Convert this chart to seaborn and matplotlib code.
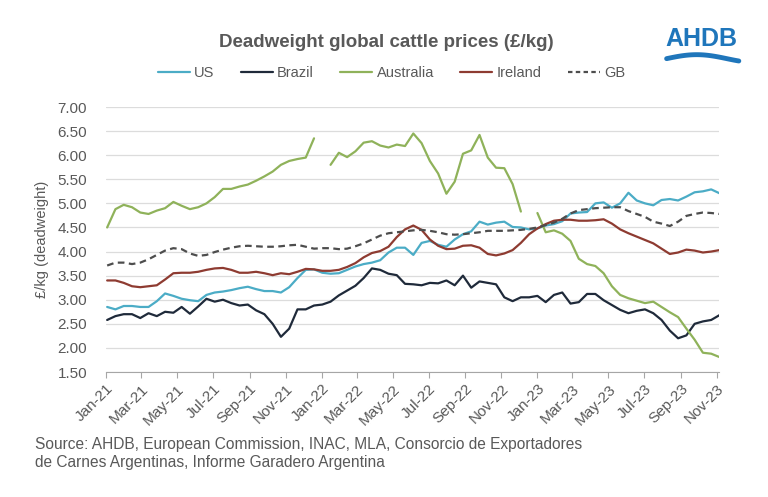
import matplotlib

matplotlib.use("Agg")
import matplotlib.dates as mdates
import matplotlib.pyplot as plt
import numpy as np
import pandas as pd
import seaborn as sns
from matplotlib.lines import Line2D

# fortnightly readings, Jan-21 to Nov-23 (GBP/kg deadweight)
dates = pd.date_range("2021-01-03", periods=75, freq="14D")

us = [
    2.85, 2.80, 2.87, 2.87, 2.85, 2.85, 2.97, 3.13, 3.08, 3.02, 2.99, 2.97, 3.10,
    3.15, 3.17, 3.20, 3.24, 3.27, 3.22, 3.18, 3.18, 3.15, 3.26, 3.45, 3.62, 3.63,
    3.56, 3.54, 3.55, 3.62, 3.69, 3.74, 3.77, 3.82, 3.98, 4.08, 4.08, 3.93, 4.18,
    4.22, 4.14, 4.10, 4.25, 4.36, 4.42, 4.62, 4.56, 4.60, 4.62, 4.51, 4.50, 4.46,
    4.48, 4.54, 4.57, 4.63, 4.79, 4.81, 4.82, 5.00, 5.02, 4.91, 5.00, 5.22, 5.06,
    5.00, 4.96, 5.07, 5.09, 5.06, 5.14, 5.23, 5.25, 5.29, 5.21,
]
brazil = [
    2.58, 2.66, 2.70, 2.70, 2.62, 2.72, 2.66, 2.75, 2.73, 2.85, 2.71, 2.86, 3.02,
    2.96, 3.00, 2.93, 2.88, 2.90, 2.78, 2.70, 2.50, 2.23, 2.40, 2.80, 2.80, 2.88,
    2.90, 2.96, 3.09, 3.19, 3.29, 3.45, 3.65, 3.62, 3.54, 3.51, 3.33, 3.32, 3.30,
    3.35, 3.34, 3.40, 3.30, 3.50, 3.25, 3.38, 3.35, 3.32, 3.05, 2.97, 3.05, 3.05,
    3.08, 2.95, 3.10, 3.15, 2.92, 2.95, 3.12, 3.12, 2.99, 2.89, 2.79, 2.72, 2.77,
    2.80, 2.72, 2.58, 2.36, 2.20, 2.26, 2.50, 2.55, 2.58, 2.68,
]
australia = [
    4.50, 4.88, 4.97, 4.92, 4.81, 4.78, 4.85, 4.90, 5.03, 4.95, 4.88, 4.92, 5.00,
    5.13, 5.30, 5.30, 5.35, 5.39, 5.47, 5.56, 5.66, 5.80, 5.88, 5.92, 5.95, 6.35,
    np.nan, 5.80, 6.05, 5.96, 6.08, 6.26, 6.29, 6.20, 6.16, 6.22, 6.19, 6.45, 6.25,
    5.88, 5.62, 5.20, 5.45, 6.03, 6.10, 6.42, 5.95, 5.74, 5.73, 5.40, 4.83, np.nan,
    4.80, 4.40, 4.44, 4.37, 4.22, 3.85, 3.74, 3.70, 3.55, 3.28, 3.10, 3.03, 2.98,
    2.93, 2.96, 2.85, 2.74, 2.64, 2.40, 2.17, 1.90, 1.88, 1.81,
]
ireland = [
    3.40, 3.40, 3.35, 3.28, 3.26, 3.28, 3.30, 3.42, 3.55, 3.56, 3.56, 3.58, 3.62,
    3.65, 3.66, 3.62, 3.56, 3.56, 3.58, 3.55, 3.51, 3.55, 3.53, 3.58, 3.64, 3.63,
    3.60, 3.60, 3.62, 3.68, 3.76, 3.88, 3.97, 4.01, 4.10, 4.30, 4.46, 4.54, 4.45,
    4.25, 4.12, 4.05, 4.06, 4.12, 4.13, 4.08, 3.95, 3.92, 3.96, 4.03, 4.18, 4.36,
    4.48, 4.57, 4.64, 4.66, 4.66, 4.64, 4.64, 4.65, 4.67, 4.58, 4.46, 4.38, 4.31,
    4.24, 4.17, 4.06, 3.95, 3.98, 4.04, 4.02, 3.98, 4.00, 4.03,
]
gb = [
    3.71, 3.77, 3.77, 3.74, 3.77, 3.84, 3.93, 4.02, 4.07, 4.05, 3.96, 3.91, 3.93,
    3.99, 4.04, 4.08, 4.11, 4.12, 4.11, 4.10, 4.10, 4.11, 4.13, 4.14, 4.10, 4.06,
    4.07, 4.07, 4.05, 4.06, 4.11, 4.17, 4.25, 4.33, 4.38, 4.40, 4.42, 4.44, 4.45,
    4.43, 4.40, 4.36, 4.35, 4.36, 4.38, 4.40, 4.43, 4.43, 4.43, 4.44, 4.45, 4.47,
    4.50, 4.55, 4.60, 4.68, 4.79, 4.86, 4.88, 4.90, 4.91, 4.92, 4.92, 4.84, 4.78,
    4.72, 4.62, 4.58, 4.53, 4.62, 4.74, 4.78, 4.81, 4.80, 4.78,
]

series = {"US": us, "Brazil": brazil, "Australia": australia, "Ireland": ireland, "GB": gb}
colors = {
    "US": "#4bacc6",
    "Brazil": "#1f2a3a",
    "Australia": "#8fb25a",
    "Ireland": "#8e3b31",
    "GB": "#4d4d4d",
}
text_grey = "#595959"

sns.set_style("white")
plt.rcParams["font.family"] = ["Liberation Sans", "DejaVu Sans"]

fig = plt.figure(figsize=(7.68, 4.97), dpi=100)
ax = fig.add_axes([0.138, 0.2515, 0.7988, 0.5332])

handles = []
for name, values in series.items():
    df = pd.DataFrame({"date": dates, "price": values})
    # breaks in the line where the source has no quote
    df["segment"] = df["price"].isna().cumsum()
    df = df.dropna()
    dashed = name == "GB"
    sns.lineplot(
        data=df,
        x="date",
        y="price",
        units="segment",
        estimator=None,
        color=colors[name],
        linewidth=1.6,
        linestyle=(0, (3, 2)) if dashed else "-",
        ax=ax,
    )
    handles.append(
        Line2D([], [], color=colors[name], linewidth=1.6,
               linestyle=(0, (2, 1.5)) if dashed else "-", label=name)
    )

ax.set_xlim(pd.Timestamp("2021-01-01"), pd.Timestamp("2023-11-05"))
ax.set_ylim(1.5, 7.0)
ax.set_yticks(np.arange(1.5, 7.01, 0.5))
ax.yaxis.set_major_formatter(plt.FormatStrFormatter("%.2f"))
ax.xaxis.set_major_locator(mdates.MonthLocator(bymonth=[1, 3, 5, 7, 9, 11]))
ax.xaxis.set_major_formatter(mdates.DateFormatter("%b-%y"))

ax.grid(axis="y", color="#dcdcdc", linewidth=0.9)
ax.set_axisbelow(True)
for side in ["top", "right", "left"]:
    ax.spines[side].set_visible(False)
ax.spines["bottom"].set_color("#a6a6a6")
ax.tick_params(axis="x", which="major", bottom=True, direction="out", length=4,
               color="#a6a6a6", labelsize=11, labelcolor=text_grey, pad=3)
ax.tick_params(axis="y", left=False, labelsize=11, labelcolor=text_grey, pad=10)
plt.setp(ax.get_xticklabels(), rotation=45, ha="right", rotation_mode="anchor")

ax.set_xlabel("")
ax.set_ylabel("£/kg (deadweight)", fontsize=10.5, color=text_grey, labelpad=6)

fig.text(0.503, 0.915, "Deadweight global cattle prices (£/kg)", ha="center", va="center",
         fontsize=13.5, fontweight="bold", color=text_grey)
fig.legend(handles=handles, loc="center", bbox_to_anchor=(0.51, 0.853), ncol=5,
           frameon=False, fontsize=10.5, handlelength=2.2, handletextpad=0.3,
           columnspacing=1.8, labelcolor=text_grey)

fig.text(0.045, 0.088, "Source: AHDB, European Commission, INAC, MLA, Consorcio de Exportadores\n"
         "de Carnes Argentinas, Informe Garadero Argentina",
         ha="left", va="center", fontsize=11.2, color=text_grey, linespacing=1.25)

# AHDB logo
fig.text(0.913, 0.922, "AHDB", ha="center", va="center", fontsize=18,
         fontweight="bold", color="#1f76bb")
wave_x = np.linspace(0.868, 0.962, 40)
wave_y = 0.882 + 0.008 * np.sin((wave_x - 0.868) / 0.094 * np.pi * 1.2)
fig.add_artist(Line2D(wave_x, wave_y, color="#1f76bb", linewidth=3.5, solid_capstyle="round"))

fig.savefig("out.png", dpi=100)
